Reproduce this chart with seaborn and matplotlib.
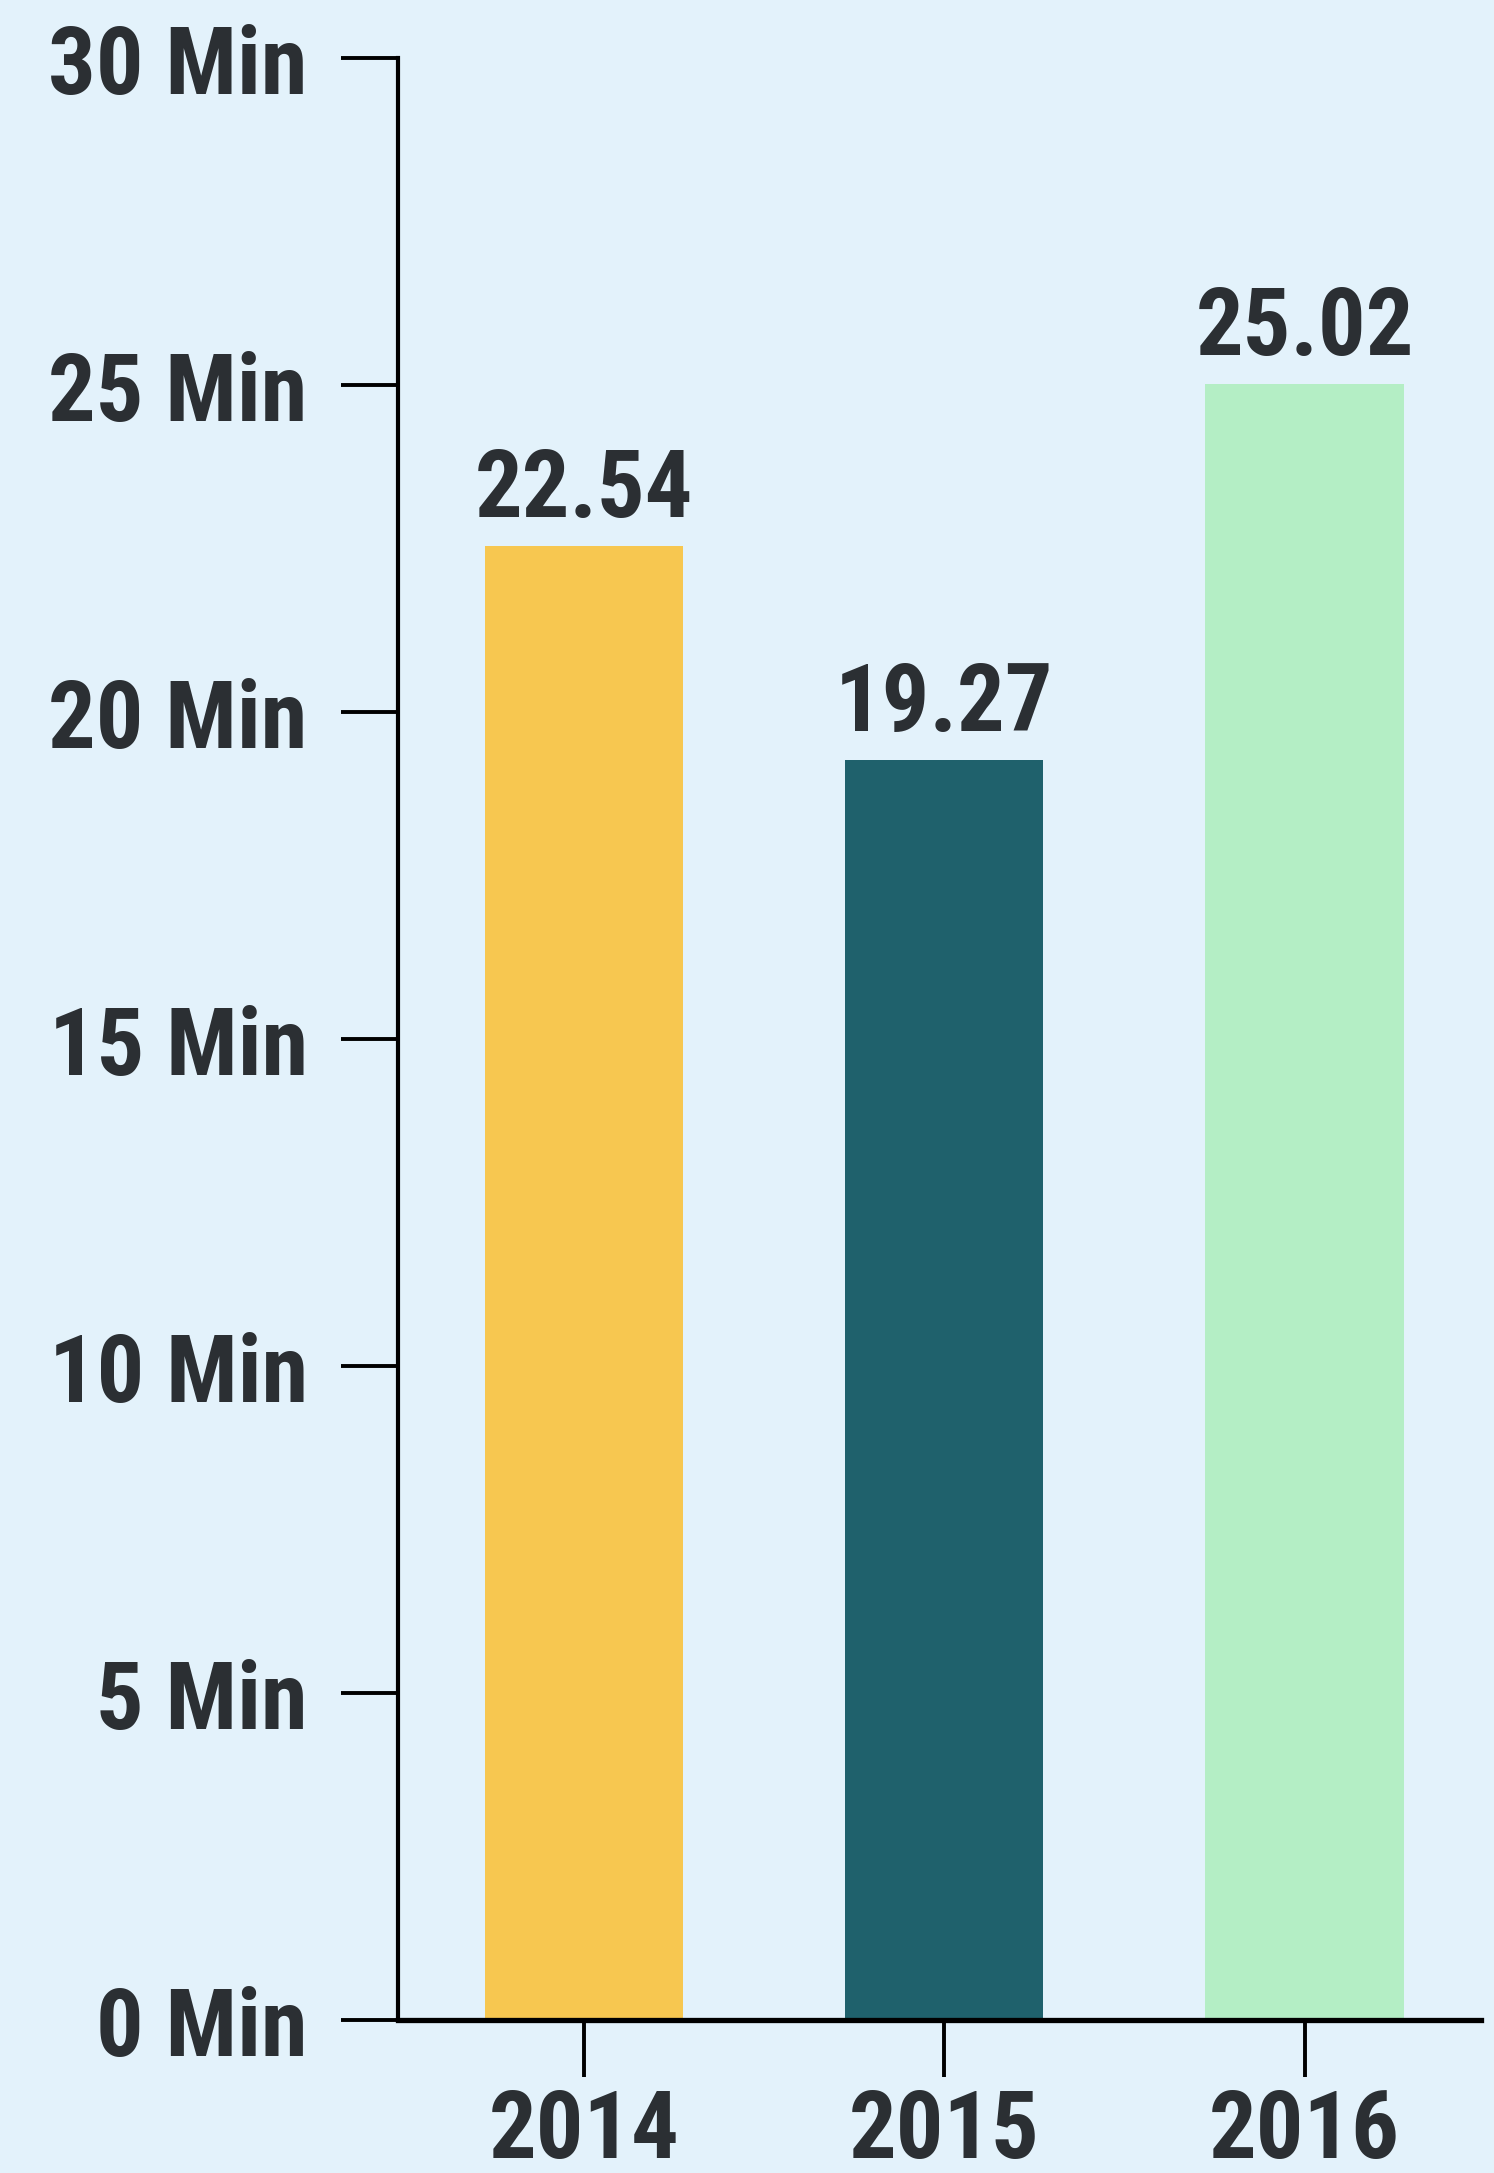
import matplotlib
matplotlib.use("Agg")
import matplotlib.pyplot as plt
import seaborn as sns
import pandas as pd

# Average minutes per year
years = ["2014", "2015", "2016"]
minutes = [22.54, 19.27, 25.02]
bar_colors = ["#F7C750", "#1F616C", "#B4EEC5"]
y_ticks = [0, 5, 10, 15, 20, 25, 30]
y_tick_labels = [f"{v} Min" for v in y_ticks]

BG = "#E3F2FB"
INK = "#2B2F33"

sns.set_theme(style="white")
plt.rcParams["font.family"] = ["Roboto Condensed", "Liberation Sans Narrow", "Roboto", "DejaVu Sans"]
plt.rcParams["font.weight"] = "bold"

df = pd.DataFrame({"year": years, "minutes": minutes})

fig = plt.figure(figsize=(14.94, 21.73), dpi=100, facecolor=BG)
ax = fig.add_axes([0.2664, 0.0704, 0.9913 - 0.2664, 0.9733 - 0.0704])
ax.set_facecolor(BG)

sns.barplot(data=df, x="year", y="minutes", hue="year", palette=bar_colors,
            width=0.55, saturation=1, legend=False, linewidth=0,
            edgecolor="none", ax=ax)

ax.set_xlim(-0.517, 2.49)
ax.set_ylim(0, 30)
ax.set_yticks(y_ticks)
ax.set_yticklabels(y_tick_labels)
ax.set_xlabel("")
ax.set_ylabel("")

for side in ("top", "right"):
    ax.spines[side].set_visible(False)
ax.spines["left"].set_linewidth(3.0)
ax.spines["bottom"].set_linewidth(3.8)
ax.spines["left"].set_color("black")
ax.spines["bottom"].set_color("black")

ax.tick_params(axis="y", left=True, direction="out", length=41, width=2.8,
               color="black", pad=24, labelsize=68, labelcolor=INK)
ax.tick_params(axis="x", bottom=True, direction="out", length=41, width=2.8,
               color="black", pad=7, labelsize=68, labelcolor=INK)
for lab in ax.get_xticklabels() + ax.get_yticklabels():
    lab.set_fontweight("bold")

for container in ax.containers:
    ax.bar_label(container, fmt="%.2f", padding=7, fontsize=68,
                 fontweight="bold", color=INK)

fig.savefig("out.png", dpi=100, facecolor=BG)
